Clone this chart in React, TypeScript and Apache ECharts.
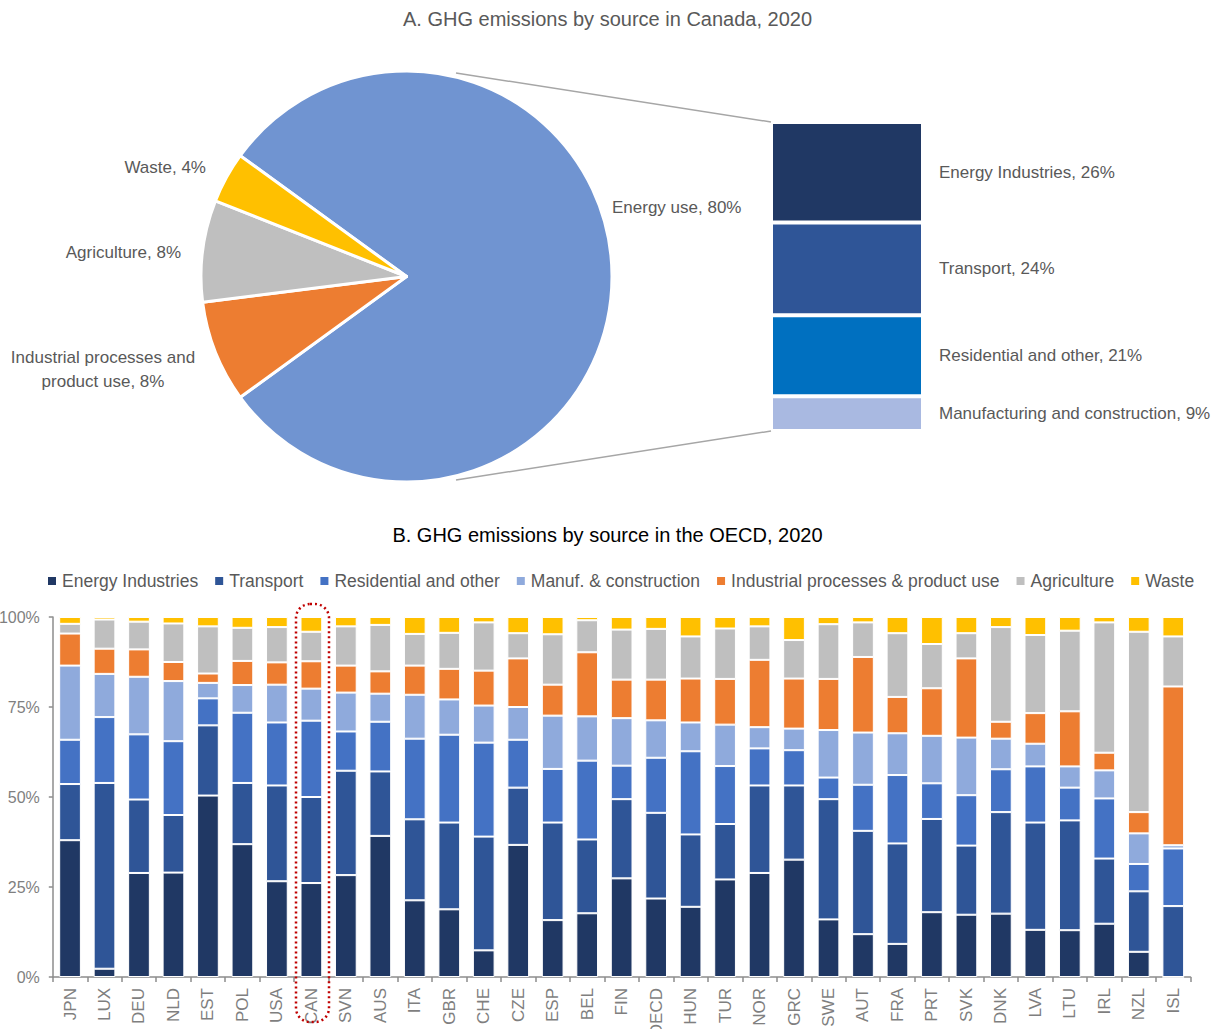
import React, { useEffect, useRef } from 'react';
import * as echarts from 'echarts';

const FONT = '"Liberation Sans Narrow", "Arial Narrow", "Liberation Sans", Arial, sans-serif';

const countries = ['JPN', 'LUX', 'DEU', 'NLD', 'EST', 'POL', 'USA', 'CAN', 'SVN', 'AUS', 'ITA', 'GBR', 'CHE', 'CZE', 'ESP', 'BEL', 'FIN', 'OECD', 'HUN', 'TUR', 'NOR', 'GRC', 'SWE', 'AUT', 'FRA', 'PRT', 'SVK', 'DNK', 'LVA', 'LTU', 'IRL', 'NZL', 'ISL'];

const energyIndustries = [38.0, 2.3, 28.9, 29.0, 50.4, 36.9, 26.6, 26.1, 28.3, 39.2, 21.3, 18.8, 7.4, 36.7, 15.8, 17.7, 27.4, 21.8, 19.5, 27.1, 28.9, 32.6, 16.0, 11.9, 9.2, 18.0, 17.3, 17.6, 13.1, 13.0, 14.8, 7.0, 0.0];
const transport = [15.6, 51.6, 20.4, 16.0, 19.5, 17.0, 26.6, 23.9, 29.0, 17.9, 22.5, 24.1, 31.6, 15.9, 27.1, 20.5, 22.0, 23.8, 20.1, 15.4, 24.3, 20.6, 33.4, 28.7, 27.9, 25.9, 19.2, 28.2, 29.8, 30.5, 18.1, 16.8, 19.7];
const residential = [12.3, 18.3, 18.1, 20.5, 7.5, 19.5, 17.5, 21.2, 10.9, 13.8, 22.4, 24.4, 26.1, 13.3, 14.9, 21.9, 9.3, 15.3, 23.1, 16.1, 10.3, 9.8, 6.0, 12.8, 19.0, 9.9, 14.0, 11.9, 15.6, 9.1, 16.7, 7.6, 16.0];
const manufacturing = [20.6, 12.0, 16.0, 16.7, 4.3, 7.7, 10.5, 8.9, 10.8, 7.8, 12.2, 9.8, 10.3, 9.1, 14.8, 12.3, 13.2, 10.4, 8.0, 11.5, 5.9, 6.0, 13.2, 14.5, 11.6, 13.2, 16.0, 8.5, 6.3, 5.9, 7.8, 8.5, 0.9];
const industrialProcesses = [8.9, 7.0, 7.6, 5.3, 2.6, 6.7, 6.2, 7.6, 7.5, 6.2, 8.1, 8.5, 9.7, 13.5, 8.6, 17.8, 10.7, 11.3, 12.2, 12.7, 18.7, 13.9, 14.2, 21.0, 10.1, 13.2, 22.0, 4.7, 8.5, 15.3, 4.9, 5.9, 44.1];
const agriculture = [2.7, 8.1, 7.7, 10.7, 13.1, 9.2, 9.8, 8.2, 10.9, 12.9, 8.8, 10.0, 13.4, 7.0, 14.0, 8.9, 13.9, 14.1, 11.7, 14.0, 9.3, 10.7, 15.2, 9.6, 17.7, 12.3, 7.0, 26.3, 21.7, 22.4, 36.2, 50.1, 13.9];
const waste = [1.9, 0.7, 1.3, 1.8, 2.6, 3.0, 2.8, 4.1, 2.6, 2.2, 4.7, 4.4, 1.5, 4.5, 4.8, 0.9, 3.5, 3.3, 5.4, 3.2, 2.6, 6.4, 2.0, 1.5, 4.5, 7.5, 4.5, 2.8, 5.0, 3.8, 1.5, 4.1, 5.4];

const seriesNames = ['Energy Industries', 'Transport', 'Residential and other', 'Manuf. & construction', 'Industrial processes & product use', 'Agriculture', 'Waste'];
const seriesValues = [energyIndustries, transport, residential, manufacturing, industrialProcesses, agriculture, waste];
const seriesColors = ['#203864', '#2F5597', '#4472C4', '#8FAADC', '#ED7D31', '#BFBFBF', '#FFC000'];

const yTicks = [0, 25, 50, 75, 100];

const pieNames = ['Energy use', 'Industrial processes and\nproduct use', 'Agriculture', 'Waste'];
const pieValues = [80, 8, 8, 4];
const pieColors = ['#7094D1', '#ED7D31', '#BFBFBF', '#FFC000'];

const breakdownNames = ['Manufacturing and construction', 'Residential and other', 'Transport', 'Energy Industries'];
const breakdownValues = [9, 21, 24, 26];
const breakdownColors = ['#A9B9E1', '#0070C0', '#2F5597', '#203864'];

// label anchor positions for pie labels: [x, y, align]
const pieLabelPos: [number, number, string][] = [
  [612, 207, 'left'],
  [103, 369, 'center'],
  [181, 252, 'right'],
  [206, 167, 'right'],
];

export default function App() {
  const ref = useRef<HTMLDivElement>(null);
  useEffect(() => {
    if (!ref.current) return;
    const chart = echarts.init(ref.current, undefined, { renderer: 'svg' });

    const mainSeries = seriesNames.map((name, i) => ({
      name,
      type: 'bar',
      stack: 'main',
      xAxisIndex: 1,
      yAxisIndex: 1,
      barWidth: '63%',
      data: seriesValues[i],
      itemStyle: { color: seriesColors[i], borderColor: '#ffffff', borderWidth: 1 },
      emphasis: { disabled: true },
    }));

    const breakdownSeries = breakdownNames.map((name, i) => ({
      name: `${name}, ${breakdownValues[i]}%`,
      type: 'bar',
      stack: 'breakdown',
      xAxisIndex: 0,
      yAxisIndex: 0,
      barWidth: '100%',
      data: [breakdownValues[i]],
      itemStyle: { color: breakdownColors[i], borderColor: '#ffffff', borderWidth: 2 },
      label: {
        show: true,
        position: 'right',
        distance: 16,
        formatter: '{a}',
        color: '#595959',
        fontSize: 17,
        fontFamily: FONT,
      },
      emphasis: { disabled: true },
    }));

    const option: any = {
      animation: false,
      backgroundColor: '#ffffff',
      textStyle: { fontFamily: FONT },
      title: [
        {
          text: 'A. GHG emissions by source in Canada, 2020',
          left: 'center',
          top: 4,
          textStyle: { fontSize: 20, color: '#595959', fontWeight: 'normal', fontFamily: FONT },
        },
        {
          text: 'B. GHG emissions by source in the OECD, 2020',
          left: 'center',
          top: 520,
          textStyle: { fontSize: 20, color: '#000000', fontWeight: 'normal', fontFamily: FONT },
        },
      ],
      legend: {
        data: seriesNames,
        left: 46,
        top: 572,
        width: 1169,
        icon: 'rect',
        itemWidth: 10,
        itemHeight: 10,
        itemGap: 15,
        padding: 0,
        textStyle: { fontSize: 17.5, color: '#595959', fontFamily: FONT },
        selectedMode: false,
      },
      grid: [
        { left: 771, top: 122, width: 152, height: 309, outerBoundsMode: 'none', containLabel: false },
        { left: 52.8, right: 24.5, top: 617, bottom: 52, outerBoundsMode: 'none', containLabel: false },
      ],
      xAxis: [
        { type: 'category', gridIndex: 0, data: ['CAN'], show: false },
        {
          type: 'category',
          gridIndex: 1,
          data: countries,
          axisLine: { lineStyle: { color: '#8C8C8C', width: 1.5 } },
          axisTick: { show: true, length: 5, lineStyle: { color: '#8C8C8C', width: 1.5 } },
          axisLabel: { rotate: 90, color: '#7F7F7F', fontSize: 17, margin: 11, fontFamily: FONT },
        },
      ],
      yAxis: [
        { type: 'value', gridIndex: 0, min: 0, max: 80, show: false },
        {
          type: 'value',
          gridIndex: 1,
          min: yTicks[0],
          max: yTicks[yTicks.length - 1],
          interval: 25,
          axisLine: { show: true, lineStyle: { color: '#8C8C8C', width: 1.5 } },
          axisTick: { show: true, length: 4, lineStyle: { color: '#8C8C8C', width: 1.5 } },
          splitLine: { show: false },
          axisLabel: { formatter: '{value}%', color: '#7F7F7F', fontSize: 16, margin: 13, fontFamily: FONT },
        },
      ],
      series: [
        {
          type: 'pie',
          center: [406.5, 276.5],
          radius: 205.5,
          startAngle: 144,
          clockwise: true,
          data: pieNames.map((name, i) => ({ name, value: pieValues[i], itemStyle: { color: pieColors[i] } })),
          itemStyle: { borderColor: '#ffffff', borderWidth: 3 },
          label: {
            show: true,
            position: 'outside',
            formatter: (p: any) => `${p.name}, ${p.value}%`,
            color: '#595959',
            fontSize: 17,
            lineHeight: 24,
            overflow: 'none',
            width: 300,
            fontFamily: FONT,
          },
          labelLine: { show: false },
          labelLayout: (params: any) => {
            const pos = pieLabelPos[params.dataIndex];
            return { x: pos[0], y: pos[1], align: pos[2], verticalAlign: 'middle' };
          },
          emphasis: { disabled: true },
        },
        ...breakdownSeries,
        ...mainSeries,
      ],
      graphic: [
        {
          type: 'line',
          shape: { x1: 456, y1: 73, x2: 771, y2: 122 },
          style: { stroke: '#A6A6A6', lineWidth: 1.5 },
        },
        {
          type: 'line',
          shape: { x1: 456, y1: 480, x2: 771, y2: 431 },
          style: { stroke: '#A6A6A6', lineWidth: 1.5 },
        },
        {
          type: 'rect',
          z: 100,
          shape: { x: 296, y: 604, width: 33, height: 418, r: 14 },
          style: { fill: 'none', stroke: '#C00000', lineWidth: 2.5, lineDash: [2, 3] },
        },
      ],
    };

    chart.setOption(option);
    return () => chart.dispose();
  }, []);

  return (
    <div
      ref={ref}
      style={{ position: 'absolute', left: 0, top: 0, width: 1215, height: 1029 }}
    />
  );
}
